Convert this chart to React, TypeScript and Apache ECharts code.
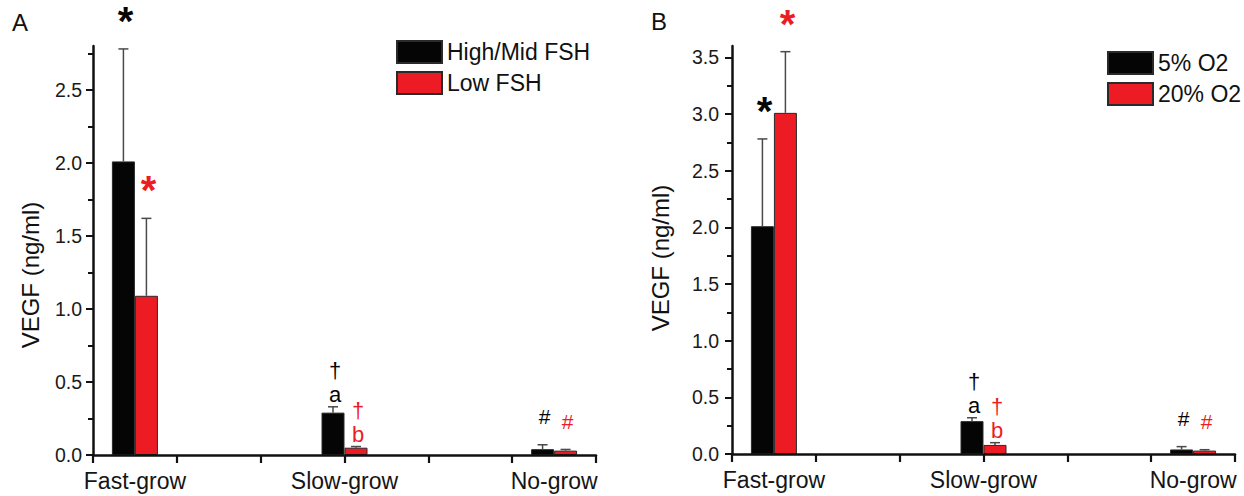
import React, { useEffect, useRef } from 'react';
import * as echarts from 'echarts';

const categories = ['Fast-grow', 'Slow-grow', 'No-grow'];
// each group sits on a 13-slot category axis (half-unit steps, ticks every 2 slots)
const categorySlots = [1, 6, 11];
const slotCount = 13;

// Panel A
const fshHighMean = [2.01, 0.29, 0.04];
const fshHighErr = [0.77, 0.04, 0.03];
const fshLowMean = [1.09, 0.05, 0.03];
const fshLowErr = [0.53, 0.008, 0.008];
const fshHighMarks = [['*'], ['a', '†'], ['#']];
const fshLowMarks = [['*'], ['b', '†'], ['#']];

// Panel B
const o2LowMean = [2.01, 0.29, 0.04];
const o2LowErr = [0.77, 0.03, 0.025];
const o2HighMean = [3.01, 0.08, 0.03];
const o2HighErr = [0.54, 0.02, 0.008];
const o2LowMarks = [['*'], ['a', '†'], ['#']];
const o2HighMarks = [['*'], ['b', '†'], ['#']];

const yTicksA = [0, 0.5, 1, 1.5, 2, 2.5];
const yMinorA = [0.25, 0.75, 1.25, 1.75, 2.25, 2.75];
const yMaxA = 2.8;
const yTicksB = [0, 0.5, 1, 1.5, 2, 2.5, 3, 3.5];
const yMinorB = [0.25, 0.75, 1.25, 1.75, 2.25, 2.75, 3.25];
const yMaxB = 3.6;

const seriesNamesA = ['High/Mid FSH', 'Low FSH'];
const seriesNamesB = ['5% O2', '20% O2'];

const FONT = '"Liberation Sans", Arial, Helvetica, sans-serif';
const BLACK = '#050505';
const RED = '#ED1C24';
const BAR_W = 23;

const markOffset: Record<string, number> = { '*': 28, '#': 28, a: 12, b: 12, '†': 36 };
const markSize: Record<string, number> = { '*': 40, '#': 21, a: 22, b: 22, '†': 22 };

const slotIds = Array.from({ length: slotCount }, (_, i) => 's' + i);
const slotLabel = (i: number) => {
  const k = categorySlots.indexOf(i);
  return k >= 0 ? categories[k] : '';
};
const toSlotData = (vals: number[]) =>
  slotIds.map((_, i) => {
    const k = categorySlots.indexOf(i);
    return k >= 0 ? vals[k] : '-';
  });

function errorSeries(
  grid: number,
  means: number[][],
  errs: number[][],
  marks: string[][][],
  colors: string[]
) {
  const data: number[][] = [];
  const meta: { marks: string[]; color: string }[] = [];
  means.forEach((m, s) => {
    m.forEach((v, k) => {
      data.push([categorySlots[k], v, errs[s][k], s === 0 ? -1 : 1]);
      meta.push({ marks: marks[s][k], color: colors[s] });
    });
  });
  return {
    type: 'custom',
    xAxisIndex: grid * 2,
    yAxisIndex: grid * 2,
    z: 5,
    silent: true,
    clip: false,
    data,
    encode: { x: 0, y: 1 },
    renderItem: (params: any, api: any) => {
      const slot = api.value(0);
      const mean = api.value(1);
      const err = api.value(2);
      const side = api.value(3);
      const top = api.coord([slot, mean + err]);
      const base = api.coord([slot, mean]);
      const x = top[0] + (side * BAR_W) / 2;
      const info = meta[params.dataIndex];
      const children: any[] = [
        {
          type: 'line',
          shape: { x1: x, y1: base[1], x2: x, y2: top[1] },
          style: { stroke: '#4a4a4a', lineWidth: 1.5 },
        },
        {
          type: 'line',
          shape: { x1: x - 5, y1: top[1], x2: x + 5, y2: top[1] },
          style: { stroke: '#4a4a4a', lineWidth: 1.5 },
        },
      ];
      info.marks.forEach((g) => {
        children.push({
          type: 'text',
          x: x + 2,
          y: top[1] - markOffset[g],
          style: {
            text: g,
            fill: info.color,
            fontSize: markSize[g],
            fontWeight: g === '*' ? 'bold' : 'normal',
            fontFamily: FONT,
            align: 'center',
            verticalAlign: 'middle',
          },
        });
      });
      return { type: 'group', children };
    },
  };
}

function xAxis(grid: number) {
  return {
    type: 'category',
    gridIndex: grid,
    data: slotIds,
    boundaryGap: false,
    z: 10,
    axisLine: { show: true, lineStyle: { color: '#111', width: 2.5 } },
    axisTick: {
      show: true,
      interval: (i: number) => i % 2 === 0,
      length: 8,
      lineStyle: { color: '#111', width: 2.2 },
    },
    axisLabel: {
      interval: 0,
      formatter: (_v: string, i: number) => slotLabel(i),
      fontSize: 23,
      color: '#151515',
      fontFamily: FONT,
      margin: 14,
    },
    splitLine: { show: false },
  };
}

function yAxes(grid: number, max: number, major: number[], minor: number[], margin: number) {
  return [
    {
      type: 'value',
      gridIndex: grid,
      min: 0,
      max,
      position: 'left',
      z: 10,
      axisLine: { show: true, lineStyle: { color: '#111', width: 2.5 } },
      axisTick: { show: true, customValues: major, length: 7, lineStyle: { color: '#111', width: 2 } },
      axisLabel: {
        customValues: major,
        formatter: (v: number) => v.toFixed(1),
        fontSize: 19.5,
        color: '#1a1a1a',
        fontFamily: FONT,
        margin,
      },
      splitLine: { show: false },
    },
    {
      type: 'value',
      gridIndex: grid,
      min: 0,
      max,
      position: 'left',
      axisLine: { show: false },
      axisTick: { show: true, customValues: minor, length: 5, lineStyle: { color: '#111', width: 2 } },
      axisLabel: { show: false },
      splitLine: { show: false },
    },
  ];
}

function bar(name: string, grid: number, vals: number[], color: string) {
  return {
    type: 'bar',
    name,
    xAxisIndex: grid * 2,
    yAxisIndex: grid * 2,
    data: toSlotData(vals),
    barWidth: BAR_W,
    barGap: '0%',
    itemStyle: { color, borderColor: '#2a2a2a', borderWidth: 1 },
    silent: true,
  };
}

function legend(names: string[], left: number, top: number) {
  return {
    data: names,
    orient: 'vertical',
    left,
    top,
    padding: 0,
    itemWidth: 45,
    itemHeight: 22,
    itemGap: 7,
    icon: 'rect',
    selectedMode: false,
    textStyle: { fontSize: 23, color: '#111', fontFamily: FONT },
  };
}

export default function App() {
  const ref = useRef<HTMLDivElement>(null);
  useEffect(() => {
    document.body.style.margin = '0';
    if (!ref.current) return;
    const chart = echarts.init(ref.current, undefined, { renderer: 'svg' });
    const xa0 = xAxis(0);
    const xa1 = xAxis(1);
    const option: any = {
      animation: false,
      backgroundColor: '#ffffff',
      grid: [
        { left: 93, top: 46, width: 503, height: 409 },
        { left: 732, top: 46, width: 503, height: 408 },
      ],
      xAxis: [xa0, { ...xa0, show: false }, xa1, { ...xa1, show: false }],
      yAxis: [
        ...yAxes(0, yMaxA, yTicksA, yMinorA, 11),
        ...yAxes(1, yMaxB, yTicksB, yMinorB, 13),
      ],
      legend: [legend(seriesNamesA, 396, 40), legend(seriesNamesB, 1107, 51)],
      series: [
        bar(seriesNamesA[0], 0, fshHighMean, BLACK),
        bar(seriesNamesA[1], 0, fshLowMean, RED),
        bar(seriesNamesB[0], 1, o2LowMean, BLACK),
        bar(seriesNamesB[1], 1, o2HighMean, RED),
        errorSeries(0, [fshHighMean, fshLowMean], [fshHighErr, fshLowErr], [fshHighMarks, fshLowMarks], [BLACK, RED]),
        errorSeries(1, [o2LowMean, o2HighMean], [o2LowErr, o2HighErr], [o2LowMarks, o2HighMarks], [BLACK, RED]),
      ],
      graphic: [
        { type: 'text', x: 12, y: 22, style: { text: 'A', fontSize: 24, fill: '#111', fontFamily: FONT, align: 'left', verticalAlign: 'middle' } },
        { type: 'text', x: 651, y: 21, style: { text: 'B', fontSize: 24, fill: '#111', fontFamily: FONT, align: 'left', verticalAlign: 'middle' } },
        { type: 'text', x: 30, y: 275, rotation: Math.PI / 2, style: { text: 'VEGF (ng/ml)', fontSize: 24, fill: '#111', fontFamily: FONT, align: 'center', verticalAlign: 'middle' } },
        { type: 'text', x: 660, y: 258, rotation: Math.PI / 2, style: { text: 'VEGF (ng/ml)', fontSize: 24, fill: '#111', fontFamily: FONT, align: 'center', verticalAlign: 'middle' } },
      ],
    };
    chart.setOption(option);
    return () => chart.dispose();
  }, []);
  return <div ref={ref} style={{ width: 1244, height: 496 }} />;
}
